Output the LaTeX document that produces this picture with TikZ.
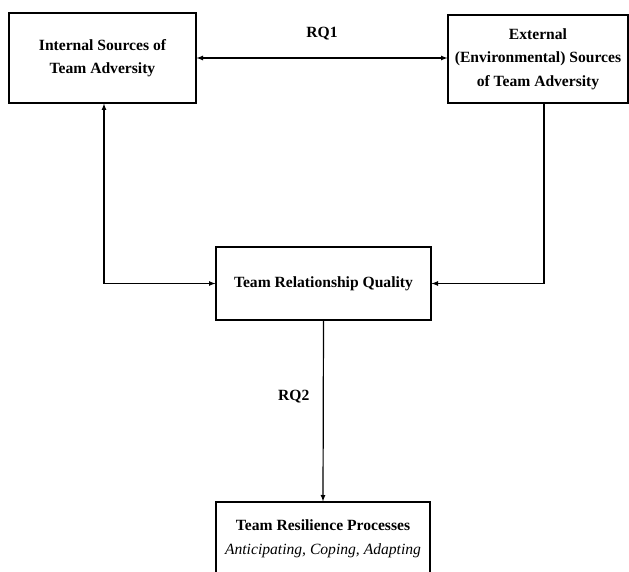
\documentclass[tikz,border=0pt]{standalone}
\usepackage{fontspec}
\setmainfont{Liberation Serif}
\tikzset{>=latex}
\tikzset{
  factor/.style={draw,line width=1.2pt,align=center,inner sep=0pt,
    font=\fontsize{15.6}{23.5}\selectfont\bfseries},
  link/.style={line width=1.2pt},
  rqlabel/.style={font=\fontsize{15.6}{17}\selectfont\bfseries}
}

\begin{document}
\begin{tikzpicture}[x=1pt,y=-1pt]
  \useasboundingbox (0,0) rectangle (629,572);
  \clip (0,0) rectangle (629,572);

  % boxes
  \node[factor,minimum width=187pt,minimum height=90pt]
    (internal) at (102.5,58) {Internal Sources of\\Team Adversity};
  \node[factor,minimum width=180pt,minimum height=88pt]
    (external) at (538,59) {External\\(Environmental) Sources\\of Team Adversity};
  \node[factor,minimum width=215pt,minimum height=73pt]
    (relq) at (323.5,283.5) {Team Relationship Quality};
  \node[factor,minimum width=214pt,minimum height=73pt]
    (resil) at (323,538.5) {Team Resilience Processes\\
      \mdseries\itshape Anticipating, Coping, Adapting};

  % arrows
  \draw[<->,link] % RQ1
    (internal.east) -- (internal.east -| external.west)
    node[midway,above=14pt,rqlabel] (rq1) {RQ1};
  \draw[<->,link] % internal <-> quality
    ([xshift=1.5pt]internal.south) |- (relq.west);
  \draw[->,link] % external -> quality
    ([xshift=6pt]external.south) |- (relq.east);
  \draw[->,link] % RQ2
    (relq.south) -- (resil.north)
    node[pos=0.42,left=10pt,rqlabel] (rq2) {RQ2};

\end{tikzpicture}
\end{document}
